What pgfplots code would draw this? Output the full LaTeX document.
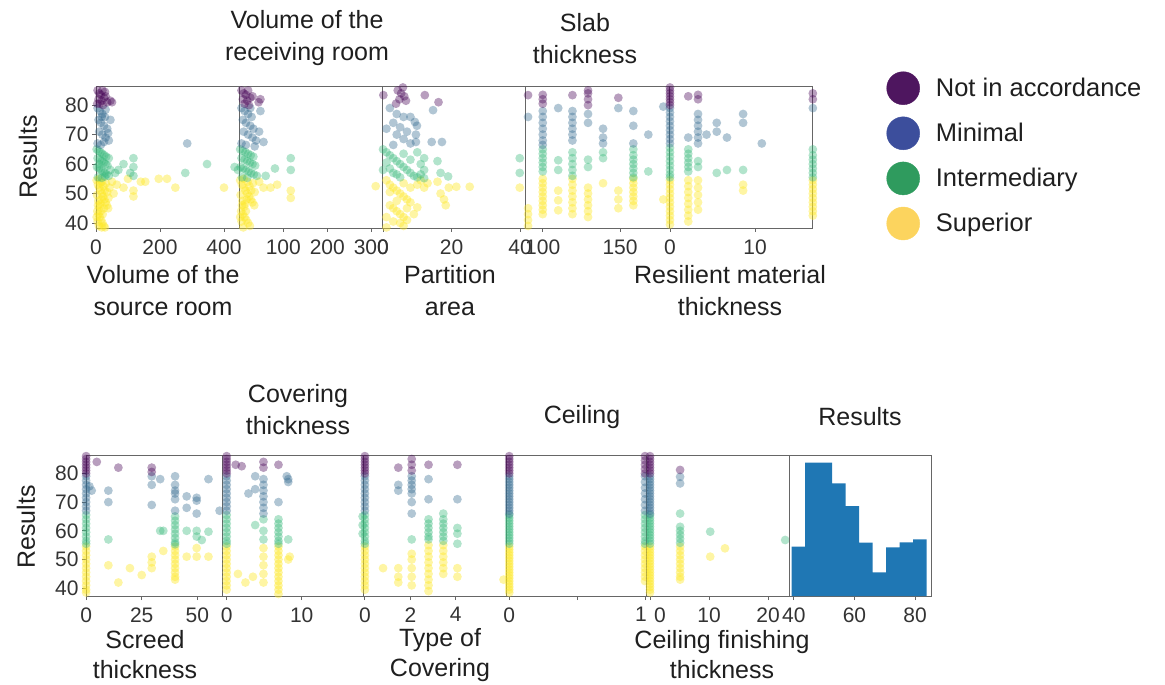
\documentclass[border=0pt]{standalone}
\usepackage{fontspec}
\setmainfont{Liberation Sans}
\usepackage{pgfplots}
\pgfplotsset{compat=1.18}
\definecolor{cP}{HTML}{440154}
\definecolor{cB}{HTML}{31688E}
\definecolor{cG}{HTML}{35B779}
\definecolor{cY}{HTML}{FDE725}
\definecolor{lP}{HTML}{4E165F}
\definecolor{lB}{HTML}{3C4E9C}
\definecolor{lG}{HTML}{2F9B5E}
\definecolor{lY}{HTML}{FCD45E}
\definecolor{hb}{HTML}{1F77B4}
\pgfplotsset{
  panel/.style={scale only axis, anchor=north west,
    axis line style={draw=black!60, line width=0.9pt},
    tick align=outside, major tick length=4pt,
    tick style={draw=black!60, line width=0.8pt},
    xtick pos=lower, ytick pos=left, ytick=\empty, clip=false,
    /pgf/number format/assume math mode=true,
    tick label style={font=\fontsize{21}{21}\selectfont, text=black!80},
    xticklabel style={yshift=-4pt}},
  top/.style={panel, width=143.3pt, height=142pt, ymin=38.3, ymax=86.5},
  bot/.style={panel, height=141pt, ymin=37.3, ymax=86.4},
  sP/.style={only marks, mark=*, color=cP, mark size=4.4pt, mark options={draw opacity=0, fill=cP, fill opacity=0.38}},
  sB/.style={only marks, mark=*, color=cB, mark size=4.4pt, mark options={draw opacity=0, fill=cB, fill opacity=0.38}},
  sG/.style={only marks, mark=*, color=cG, mark size=4.4pt, mark options={draw opacity=0, fill=cG, fill opacity=0.38}},
  sY/.style={only marks, mark=*, color=cY, mark size=4.4pt, mark options={draw opacity=0, fill=cY, fill opacity=0.42}},
}
\begin{document}
\begin{tikzpicture}
\path[use as bounding box] (0pt,0pt) rectangle (1165pt,-685pt);

% ---------------- TOP ROW ----------------
% T1 volume of the source room
\begin{axis}[top, at={(96pt,-86pt)}, xmin=0, xmax=447.8, xtick={0,200,400}, ytick={40,50,60,70,80}]
\addplot[sY] coordinates {(2,54.5)(6,53)(10,52)(14,51)(18,50)(22,49)(26,48)(30,47)(34,46)(38,45)(4,44)(8,43)(12,42)(16,41)(20,40)(24,39)(28,38.5)(3,49.5)(7,47.5)(11,45.5)(15,44)(19,54)(23,52.5)(27,51)(31,53.5)(35,50.5)(39,48.5)(5,40.5)(9,39)(13,46.5)(17,48)(21,43)(25,45)(2,42)(6,46)(10,55)(14,53.5)(18,38.5)(42,52)(50,54)(55,50)(65,53)(86,52)(100,55)(117,51)(117,49)(140,54)(154,54)(196,55)(222,55)(248,52)(400,52)};
\addplot[sG] coordinates {(2,65)(8,64.5)(14,64)(20,63.5)(26,63)(32,62.5)(5,62)(12,61.5)(18,61)(24,60.5)(30,60)(36,59.5)(3,59)(9,58.5)(15,58)(21,57.5)(27,57)(33,56.5)(40,56)(6,55.5)(18,55.3)(28,55.8)(45,58)(60,57)(70,58)(86,60)(107,57)(117,62)(117,59)(117,56)(279,57)(347,60)(433,59)(40,62)(10,60)};
\addplot[sB] coordinates {(5,79)(12,78)(20,77)(28,76)(8,75)(15,74)(25,73)(35,72)(10,71)(20,70)(30,69)(40,68)(5,67)(15,66.5)(25,67.5)(38,70.5)(45,75)(18,76)(30,78.5)(285,67)};
\addplot[sP] coordinates {(5,85)(10,84)(15,83.5)(20,85)(8,82)(18,81.5)(25,82.5)(12,80.5)(22,80)(30,83)(35,81)(45,81.5)(50,81)(28,84.5)(4,80.5)};
\end{axis}

% T2 volume of the receiving room
\begin{axis}[top, at={(239.3pt,-86pt)}, xmin=0, xmax=325.7, xtick={100,200,300}]
\addplot[sY] coordinates {(2,54.5)(6,53)(10,52)(14,51)(18,50)(22,49)(26,48)(30,47)(34,46)(4,44)(8,43)(12,42)(16,41)(20,40)(24,39)(3,49.5)(7,47.5)(11,45.5)(15,44)(19,54)(23,52.5)(27,51)(31,53.5)(35,50.5)(5,40.5)(9,38.5)(13,46.5)(17,48)(2,42)(6,46)(10,55)(45,54)(55,52)(71,52)(86,53)(117,51)(117,48.5)(310,52.5)};
\addplot[sG] coordinates {(2,65)(8,64.5)(14,64)(20,63.5)(26,63)(32,62.5)(5,62)(12,61.5)(18,61)(24,60.5)(30,60)(36,59.5)(3,59)(9,58.5)(15,58)(21,57.5)(27,57)(33,56.5)(40,56)(6,55.5)(18,55.3)(60,56)(81,58.5)(117,62)(117,58)(-3,58)};
\addplot[sB] coordinates {(5,79)(12,78)(20,77)(28,76)(8,75)(15,74)(25,73)(32,72)(10,71)(20,70)(30,69)(38,68)(5,67)(15,66.5)(45,71)(55,67.5)(48,78)(35,66)(25,79)};
\addplot[sP] coordinates {(5,85)(10,84)(15,83.5)(20,85)(8,82)(18,81.5)(25,82.5)(12,80.5)(22,80)(30,83)(44,81)(48,82)};
\end{axis}

% T3 partition area
\begin{axis}[top, at={(382.6pt,-86pt)}, xmin=-0.12, xmax=41.7, xtick={0,20,40}]
\addplot[sY] coordinates {(1,54.5)(2,53)(3,52)(4,51)(5,50)(6,49)(7,48)(8,47)(2,46)(3,45)(4,44)(5,43)(6,42)(7,41)(5,40)(6,39)(4,47.5)(2,50.5)(1,42)(3,40.5)(6,53.5)(7,45)(8,52)(10,53)(11,54.5)(12,52)(13,53.5)(10,45.3)(15.9,54)(16.8,50)(17.8,48)(19.2,52)(18.3,46)(21.4,52.3)(25.3,52.3)(39.9,52)(9,43)(1,38.5)};
\addplot[sG] coordinates {(0,65)(1,64)(2,63)(3,62)(4,61)(5,60)(6,59)(7,58)(8,57)(9,56)(10,55.5)(11,60)(12,58)(12,62)(2,58.5)(4,56.5)(6,63.5)(8,61.5)(10,64)(1,60.5)(3,57)(5,55.5)(11,56.5)(12,55.2)(15.9,61)(16.8,57)(19,55.8)(39.9,62)(39.9,57)(0,58)};
\addplot[sB] coordinates {(2,79)(4,77)(6,76)(3,74)(5,72.5)(7,71)(4,70)(6,68.5)(8,67)(3,66.5)(9.3,74.3)(9.9,73)(9.6,70)(9.6,67.5)(14.6,78.3)(14.2,67.5)(17.2,67.5)(8,76)(1,72)};
\addplot[sP] coordinates {(0.1,83.4)(4.3,85)(5.3,84)(6.2,83)(4.8,82)(6.7,81.5)(3.8,80.5)(5.8,86)(12.2,83.4)(16.2,81)};
\end{axis}

% T4 slab thickness
\begin{axis}[top, at={(525.9pt,-86pt)}, xmin=89.1, xmax=181.8, xtick={100,150}]
\addplot[sY] coordinates {(90.5,45)(90.5,43)(90.5,41)(90.5,39)(100,55)(100,53.5)(100,52)(100,50.5)(100,49)(100,47.5)(100,46)(100,44.5)(100,43)(110,51)(110,47.7)(110,44.3)(119.2,55)(119.2,53)(119.2,51)(119.2,49)(119.2,47)(119.2,45)(119.2,43)(129.3,52)(129.3,50)(129.3,48)(129.3,46)(129.3,44)(129.3,42)(139,53.5)(148.9,51)(148.9,48)(148.9,45)(158.6,55)(158.6,53.5)(158.6,52)(158.6,50.5)(158.6,49)(158.6,47.5)(158.6,46)(178,48)};
\addplot[sG] coordinates {(100,65)(100,63.5)(100,62)(100,60.5)(100,59)(100,57.5)(110,61.3)(110,58)(119.2,64)(119.2,62)(119.2,60)(119.2,58)(119.2,56)(129.3,61.5)(129.3,59)(139,64)(139,62)(158.6,65)(158.6,63)(158.6,61.5)(158.6,60)(158.6,58.5)(158.6,57)(158.6,55.5)(168.3,57.5)};
\addplot[sB] coordinates {(90.5,76)(100,78)(100,76)(100,74)(100,72)(100,70)(100,68)(100,66.5)(110,79)(119.2,78)(119.2,76)(119.2,74)(119.2,72)(119.2,70)(119.2,68)(129.3,77)(129.3,74)(139,72)(139,69)(139,67)(148.9,79)(158.6,78)(158.6,73)(158.6,67)(168.3,70)(178,79.5)};
\addplot[sP] coordinates {(90.5,83.4)(100,83.5)(100,82)(100,80.5)(119.2,83.4)(129.3,85)(129.3,84)(129.3,82)(129.3,80)(148.9,82.5)};
\end{axis}

% T5 resilient material thickness
\begin{axis}[top, at={(669.2pt,-86pt)}, xmin=-0.09, xmax=16.76, xtick={0,10}]
\addplot[sY] coordinates {(0,54.5)(0,53)(0,51.5)(0,50)(0,48.5)(0,47)(0,45.5)(0,44)(0,42.5)(0,41)(0,39.5)(2.15,54.5)(2.15,52.5)(2.15,50.5)(2.15,48.5)(2.15,46.5)(2.15,44.5)(2.15,42.5)(2.15,40.5)(3.3,54.5)(3.3,52)(3.3,49.5)(3.3,47)(3.3,44.5)(8.6,53)(8.6,51)(16.8,54.5)(16.8,53)(16.8,51.5)(16.8,50)(16.8,48.5)(16.8,47)(16.8,45.5)(16.8,44)(16.8,42.5)};
\addplot[sG] coordinates {(0,65.5)(0,64)(0,62.5)(0,61)(0,59.5)(0,58)(0,56.5)(0,55.5)(2.15,65)(2.15,63.5)(2.15,62)(2.15,60.5)(2.15,59)(2.15,57.5)(3.3,61)(3.3,59)(5.5,57)(6.7,58)(8.6,58)(16.8,65)(16.8,63)(16.8,61.5)(16.8,60)(16.8,58.5)(16.8,57)(16.8,55.5)};
\addplot[sB] coordinates {(0,79)(0,77.5)(0,76)(0,74.5)(0,73)(0,71.5)(0,70)(0,68.5)(0,67)(3.3,77)(3.3,75)(3.3,73)(3.3,71)(3.3,69)(3.3,67)(4.3,70)(5.5,74)(5.5,71)(6.7,69)(8.6,77)(8.6,74)(10.8,67)(2.15,69)(16.8,79)};
\addplot[sP] coordinates {(0,86)(0,85)(0,84)(0,83)(0,82)(0,81)(0,80)(2.15,83)(3.3,82)(3.3,83.5)(16.8,82)(16.8,84)};
\end{axis}

% ---------------- BOTTOM ROW ----------------
% B1 screed thickness
\begin{axis}[bot, at={(86pt,-455pt)}, width=136.7pt, xmin=-0.05, xmax=61.4, xtick={0,25,50}, ytick={40,50,60,70,80}]
\addplot[sY] coordinates {(0,54.5)(0,53)(0,51.5)(0,50)(0,48.5)(0,47)(0,45.5)(0,44)(0,42.5)(0,41)(0,39.5)(0,38.5)(10,48)(14.5,42)(19.7,47)(25,44.6)(29.5,51)(29.5,49)(29.5,47)(34.7,53)(40,54.5)(40,53)(40,51.5)(40,50)(40,48.5)(40,47)(40,45.5)(40,44)(40,43)(45.2,51)(49.7,54)(49.7,51)(55,51)};
\addplot[sG] coordinates {(0,65.5)(0,64)(0,62.5)(0,61)(0,59.5)(0,58)(0,56.5)(0,55.5)(10,57)(33.3,60)(40,65)(40,63.5)(40,62)(40,60.5)(40,59)(40,57.5)(40,56)(40,55.3)(45.2,60)(49.7,60)(49.7,58)(52,56.8)(55,59.7)(34.7,60)};
\addplot[sB] coordinates {(0,79)(0,77.5)(0,76)(0,74.5)(0,73)(0,71.5)(0,70)(0,68.5)(0,67)(1.5,75.5)(2.5,74)(10,74)(10,70)(29.5,79)(29.5,76)(29.5,69)(33.3,78)(40,79)(40,76)(40,74)(40,73)(40,71)(40,67)(45.2,72)(45.2,68)(49.7,71.5)(49.7,70.5)(49.7,66)(55,78)(60,67)};
\addplot[sP] coordinates {(0,86)(0,85)(0,84)(0,83)(0,82)(0,81)(0,80)(4.8,84)(14.5,82)(29.5,82)(29.5,80.5)};
\end{axis}

% B2 covering thickness
\begin{axis}[bot, at={(222.7pt,-455pt)}, width=140.6pt, xmin=-0.53, xmax=18.2, xtick={0,10}]
\addplot[sY] coordinates {(0,54.5)(0,53)(0,51.5)(0,50)(0,48.5)(0,47)(0,45.5)(0,44)(0,42.5)(0,41)(0,39.5)(1.5,45)(2.5,42)(3.5,44)(4.9,54)(4.9,51)(4.9,48)(4.9,45)(4.9,42)(6.9,54.5)(6.9,53)(6.9,51.5)(6.9,50)(6.9,48.5)(6.9,47)(6.9,45.5)(6.9,44)(6.9,42.5)(6.9,41)(6.9,39.5)(6.9,38)(8.2,50)(8.4,51)};
\addplot[sG] coordinates {(0,65.5)(0,64)(0,62.5)(0,61)(0,59.5)(0,58)(0,56.5)(0,55.5)(3.8,62)(4.9,64)(4.9,60)(4.9,57)(6.9,64)(6.9,62.5)(6.9,61)(6.9,59.5)(6.9,58)(6.9,56.5)(6.9,55.5)(8.2,57)};
\addplot[sB] coordinates {(0,79)(0,77.5)(0,76)(0,74.5)(0,73)(0,71.5)(0,70)(0,68.5)(0,67)(2.9,73)(3.8,79)(3.8,74.5)(4.9,78)(4.9,76)(4.9,74)(4.9,72)(4.9,70)(4.9,68)(4.9,66)(6.9,70)(8,79)(8.2,78)(8.2,77)};
\addplot[sP] coordinates {(0,86)(0,85)(0,84)(0,83)(0,82)(0,81)(0,80)(1.2,83)(2,82.5)(4.9,84)(4.9,82)(6.9,83)};
\end{axis}

% B3 type of covering
\begin{axis}[bot, at={(363.3pt,-455pt)}, width=143.4pt, xmin=-0.07, xmax=6.24, xtick={0,2,4}]
\addplot[sY] coordinates {(0,54.5)(0,53)(0,51.5)(0,50)(0,48.5)(0,47)(0,45.5)(0,44)(0,42.5)(0,41)(0,39.5)(0.8,47)(1.47,47)(1.47,44)(1.47,42)(2.06,52)(2.06,50)(2.06,47)(2.06,44)(2.06,41)(2.8,55)(2.8,53)(2.8,51)(2.8,49)(2.8,47)(2.8,45)(2.8,43)(2.8,41)(2.8,39)(3.45,55)(3.45,53)(3.45,51)(3.45,49)(3.45,47)(3.45,45)(4.07,47)(4.07,44)(6.1,43)};
\addplot[sG] coordinates {(0,65.5)(0,64)(0,62.5)(0,61)(0,59.5)(0,58)(0,56.5)(0,55.5)(-0.1,65)(-0.1,62)(-0.1,59)(2.06,57)(2.8,64)(2.8,62.5)(2.8,61)(2.8,59.5)(2.8,58)(2.8,57)(3.45,66)(3.45,64)(3.45,62.5)(3.45,61)(3.45,59.5)(3.45,58)(3.45,56.5)(4.07,61)(4.07,59)(4.07,55.5)};
\addplot[sB] coordinates {(0,79)(0,77.5)(0,76)(0,74.5)(0,73)(0,71.5)(0,70)(0,68.5)(0,67)(1.47,76)(1.47,74)(2.06,79)(2.06,77.5)(2.06,76)(2.06,74.5)(2.06,73)(2.06,70)(2.06,66)(2.8,78)(2.8,71)(4.07,71)};
\addplot[sP] coordinates {(0,86)(0,85)(0,84)(0,83)(0,82)(0,81)(0,80)(1.47,82)(2.06,85)(2.06,83)(2.06,81)(2.8,83)(4.07,83)};
\end{axis}

% B4 ceiling
\begin{axis}[bot, at={(506.7pt,-455pt)}, width=140pt, xmin=-0.019, xmax=1.0125, xtick={0,0.5,1}, xticklabels={0,,\hspace*{0pt}1\hspace*{8pt}}]
\addplot[sY] coordinates {(0,54.5)(0,53.5)(0,52.5)(0,51.5)(0,50.5)(0,49.5)(0,48.5)(0,47.5)(0,46.5)(0,45.5)(0,44.5)(0,43.5)(0,42.5)(0,41.5)(0,40.5)(0,39.5)(0,38.5)(1,54.5)(1,53)(1,51.5)(1,50)(1,48.5)(1,47)(1,45.5)(1,44)(1,42.5)};
\addplot[sG] coordinates {(0,65.5)(0,64.5)(0,63.5)(0,62.5)(0,61.5)(0,60.5)(0,59.5)(0,58.5)(0,57.5)(0,56.5)(0,55.5)(1,65.5)(1,64)(1,62.5)(1,61)(1,59.5)(1,58)(1,56.5)(1,55.5)};
\addplot[sB] coordinates {(0,79)(0,78)(0,77)(0,76)(0,75)(0,74)(0,73)(0,72)(0,71)(0,70)(0,69)(0,68)(0,67)(0,66)(1,79)(1,77)(1,75)(1,73)(1,71)(1,69)(1,67)};
\addplot[sP] coordinates {(0,86)(0,85)(0,84)(0,83)(0,82)(0,81)(0,80)(1,86)(1,84.5)(1,83)(1,81.5)(1,80)};
\end{axis}

% B5 ceiling finishing thickness
\begin{axis}[bot, at={(646.7pt,-455pt)}, width=142.6pt, xmin=-0.56, xmax=23.6, xtick={0,10,20}, xticklabels={\hspace*{20pt}0,10,20}]
\addplot[sY] coordinates {(0,54.5)(0,53.5)(0,52.5)(0,51.5)(0,50.5)(0,49.5)(0,48.5)(0,47.5)(0,46.5)(0,45.5)(0,44.5)(0,43.5)(0,42.5)(0,41.5)(0,40.5)(0,39.5)(0,38.5)(5.1,54.5)(5.1,53)(5.1,51.5)(5.1,50)(5.1,48.5)(5.1,47)(5.1,45.5)(5.1,44)(5.1,43)(10.2,51)(12.7,53.9)};
\addplot[sG] coordinates {(0,65.5)(0,64.5)(0,63.5)(0,62.5)(0,61.5)(0,60.5)(0,59.5)(0,58.5)(0,57.5)(0,56.5)(0,55.5)(5.1,66)(5.1,61.4)(5.1,60)(5.1,58.6)(5.1,57.2)(5.1,55.8)(10.2,59.7)(22.9,56.8)};
\addplot[sB] coordinates {(0,79)(0,78)(0,77)(0,76)(0,75)(0,74)(0,73)(0,72)(0,71)(0,70)(0,69)(0,68)(0,67)(0,66)(5.1,78.8)(5.1,76.5)};
\addplot[sP] coordinates {(0,86)(0,85)(0,84)(0,83)(0,82)(0,81)(0,80)(5.1,81.2)};
\end{axis}

% B6 histogram of results
\begin{axis}[bot, at={(789.3pt,-455pt)}, width=142.4pt, xmin=38.5, xmax=85.5, ymin=0, ymax=84.6, xtick={40,60,80}, clip=true]
\addplot[ybar interval, fill=hb, draw=none] coordinates {(39.3,29.6)(43.75,80)(48.2,80)(52.65,67.6)(57.1,54)(61.55,32)(66.0,14.2)(70.45,29.2)(74.9,32.2)(79.35,34)(83.8,34)};
\end{axis}

% ---------------- LEGEND ----------------
\begin{axis}[at={(886.5pt,-71.5pt)}, anchor=north west, scale only axis, width=1pt, height=1pt, hide axis, xmin=0, xmax=1, ymin=0, ymax=1,
  legend style={at={(0,1)}, anchor=north west, draw=none, fill=none, inner sep=0pt, outer sep=0pt,
    row sep=11.7pt, column sep=14pt, font=\fontsize{25.5}{30}\selectfont, text=black!88, legend cell align=left}]
\addlegendimage{legend image code/.code={\fill[lP] (16.5pt,0pt) circle[radius=16.5pt];}}
\addlegendentry{Not in accordance}
\addlegendimage{legend image code/.code={\fill[lB] (16.5pt,0pt) circle[radius=16.5pt];}}
\addlegendentry{Minimal}
\addlegendimage{legend image code/.code={\fill[lG] (16.5pt,0pt) circle[radius=16.5pt];}}
\addlegendentry{Intermediary}
\addlegendimage{legend image code/.code={\fill[lY] (16.5pt,0pt) circle[radius=16.5pt];}}
\addlegendentry{Superior}
\end{axis}

% ---------------- LABELS ----------------
\begin{scope}[every node/.style={font=\fontsize{25}{32}\selectfont, align=center, text=black!88, inner sep=0pt}]
\node at (307pt,-38.5pt) {Volume of the\\receiving room};
\node at (585pt,-38.5pt) {Slab\\thickness};
\node at (163pt,-291pt) {Volume of the\\source room};
\node at (450pt,-291pt) {Partition\\area};
\node at (730pt,-291pt) {Resilient material\\thickness};
\node[rotate=90] at (28pt,-157pt) {Results};
\node at (298pt,-410pt) {Covering\\thickness};
\node at (582pt,-417pt) {Ceiling};
\node at (860pt,-417pt) {Results};
\node[rotate=90] at (26pt,-527pt) {Results};
\end{scope}
\begin{scope}[every node/.style={font=\fontsize{25}{30}\selectfont, align=center, text=black!88, inner sep=0pt}]
\node at (145pt,-655pt) {Screed\\thickness};
\node at (440pt,-655pt) {Type of\\Covering};
\node at (722pt,-655pt) {Ceiling finishing\\thickness};
\end{scope}
\end{tikzpicture}
\end{document}
